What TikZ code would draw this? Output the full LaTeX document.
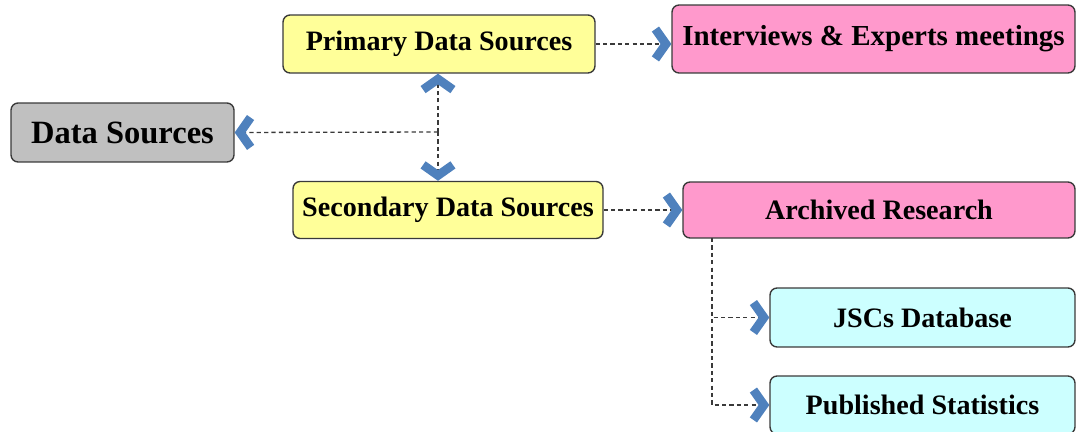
\documentclass[tikz,border=0pt]{standalone}
\usepackage{fontspec}
\setmainfont{Liberation Serif}
\usetikzlibrary{arrows.meta}
\definecolor{yel}{HTML}{FFFF99}
\definecolor{pnk}{HTML}{FF99CC}
\definecolor{cyn}{HTML}{CCFFFF}
\definecolor{gry}{HTML}{C0C0C0}
\definecolor{chevblue}{HTML}{4F81BD}
\definecolor{edge}{HTML}{3A3A3A}

\begin{document}
\begin{tikzpicture}[x=0.02cm,y=-0.02cm,
	every node/.style={font=\bfseries\fontsize{16}{18}\selectfont},
	box/.style={draw=edge,line width=0.8pt,rounded corners=4pt,align=center},
	link/.style={draw=edge,line width=0.75pt,dash pattern=on 2.4pt off 1.8pt,
		-{Straight Barb[color=chevblue,sharp,length=6pt,width=17pt,line width=5pt]}}]
	\useasboundingbox (0,0) rectangle (1076,432);
	\node[box,fill=gry,minimum width=4.46cm,minimum height=1.18cm,font=\bfseries\fontsize{18.5}{20}\selectfont] (ds) at (122.5,132.5) {Data Sources};
	\node[box,fill=yel,minimum width=6.24cm,minimum height=1.16cm] (pri) at (439,44) {Primary Data Sources};
	\node[box,fill=yel,minimum width=6.2cm,minimum height=1.14cm] (sec) at (448,210) {Secondary Data Sources};
	\node[box,fill=pnk,minimum width=8.06cm,minimum height=1.36cm,font=\bfseries\fontsize{16.5}{18}\selectfont] (intv) at (873.5,39) {Interviews \& Experts meetings};
	\node[box,fill=pnk,minimum width=7.84cm,minimum height=1.12cm] (arch) at (879,210) {Archived Research};
	\node[box,fill=cyn,minimum width=6.1cm,minimum height=1.18cm] (jsc) at (922.5,317.5) {JSCs Database};
	\node[box,fill=cyn,minimum width=6.1cm,minimum height=1.16cm] (pub) at (922.5,405) {Published Statistics};
	\coordinate (j) at (438,132);
	\coordinate (br) at (712,238);
	\draw[link] (j) -- (ds.east);
	\draw[link] (j) -- (j |- pri.south);
	\draw[link] (j) -- (j |- sec.north);
	\draw[link] (pri.east) -- (pri.east -| intv.west);
	\draw[link] (sec.east) -- (arch.west);
	\draw[link] (br) |- (jsc.west);
	\draw[link] (br) |- (pub.west);
\end{tikzpicture}
\end{document}
